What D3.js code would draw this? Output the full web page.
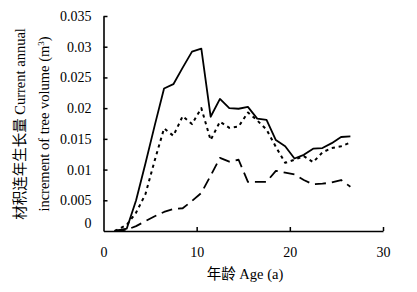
<!DOCTYPE html>
<html>
<head>
<meta charset="utf-8">
<script src="https://cdn.jsdelivr.net/npm/d3@7"></script>
<style>
  html, body { margin: 0; padding: 0; background: #fff; }
  svg { display: block; }
  text { font-family: "Liberation Serif", "Noto Sans CJK SC", serif; fill: #000; }
</style>
</head>
<body>
<svg id="chart" width="417" height="292"></svg>
<script>
// ---- data ----
const ages = [1.2, 2.5, 3.5, 4.5, 5.5, 6.5, 7.5, 8.5, 9.5, 10.5, 11.5, 12.5, 13.5, 14.5, 15.5, 16.5, 17.5, 18.5, 19.5, 20.5, 21.5, 22.5, 23.5, 24.5, 25.5, 26.5];
const seriesSolid = [0, 0.0004, 0.0050, 0.0110, 0.0172, 0.0232, 0.0239, 0.0266, 0.0292, 0.0297, 0.0186, 0.0215, 0.0200, 0.0199, 0.0202, 0.0183, 0.0181, 0.0148, 0.0138, 0.0118, 0.0124, 0.0134, 0.0135, 0.0143, 0.0153, 0.0154];
const seriesDotted = [0, 0.0010, 0.0030, 0.0060, 0.0115, 0.0167, 0.0155, 0.0187, 0.0174, 0.0200, 0.0148, 0.0178, 0.0168, 0.0170, 0.0193, 0.0180, 0.0165, 0.0137, 0.0111, 0.0116, 0.0122, 0.0112, 0.0128, 0.0135, 0.0138, 0.0144];
const seriesDashed = [0, 0.0002, 0.0008, 0.0016, 0.0024, 0.0031, 0.0036, 0.0037, 0.0049, 0.0062, 0.0090, 0.0119, 0.0113, 0.0116, 0.0080, 0.0080, 0.0080, 0.0098, 0.0095, 0.0092, 0.0083, 0.0076, 0.0077, 0.0079, 0.0083, 0.0072];
const xTicks = [0, 10, 20, 30];
const yTicks = [0, 0.005, 0.01, 0.015, 0.02, 0.025, 0.03, 0.035];
const xTitle = "年龄 Age (a)";
const yTitle1 = "材积连年生长量 Current annual";
const yTitle2 = "increment of tree volume (m";

// ---- layout ----
const svg = d3.select("#chart");
const x = d3.scaleLinear().domain([0, 30]).range([103.5, 383]);
const y = d3.scaleLinear().domain([0, 0.035]).range([231, 16]);

const fmt = d => d === 0 ? "0" : String(+d.toFixed(3));

// lines
const line = d3.line().x((d, i) => x(ages[i])).y(d => y(d));
const series = [
  { v: seriesDashed, dash: "11,6", w: 1.8 },
  { v: seriesDotted, dash: "3.2,3.8", w: 2 },
  { v: seriesSolid, dash: null, w: 1.8 }
];
series.forEach(s => {
  svg.append("path")
    .attr("d", line(s.v))
    .attr("fill", "none")
    .attr("stroke", "#000")
    .attr("stroke-width", s.w)
    .attr("stroke-linejoin", "round")
    .attr("stroke-dasharray", s.dash);
});

// axes
const yAxis = svg.append("g")
  .attr("transform", `translate(${x(0)},0)`)
  .call(d3.axisLeft(y).tickValues(yTicks).tickFormat(fmt).tickSizeInner(-4).tickSizeOuter(0).tickPadding(12));
const xAxis = svg.append("g")
  .attr("transform", `translate(0,${y(0)})`)
  .call(d3.axisBottom(x).tickValues(xTicks).tickFormat(d3.format("d")).tickSizeInner(-4).tickSizeOuter(0).tickPadding(16));

[yAxis, xAxis].forEach(g => {
  g.select(".domain").attr("stroke", "#000").attr("stroke-width", 1.6);
  g.selectAll(".tick line").attr("stroke", "#000").attr("stroke-width", 1.5);
  g.selectAll(".tick text")
    .style("font-family", '"Liberation Serif", serif')
    .style("font-size", "14px")
    .attr("fill", "#000");
});
// the y "0" label sits a little above the baseline in the reference
yAxis.selectAll(".tick text").filter(d => d === 0).attr("y", -8);
xAxis.selectAll(".tick line").filter(d => d === 0).remove();
yAxis.selectAll(".tick line").filter(d => d === 0).remove();

// titles
svg.append("text")
  .attr("x", 245).attr("y", 279)
  .attr("text-anchor", "middle")
  .style("font-size", "14.5px")
  .text(xTitle);

const yt = svg.append("g").attr("transform", "translate(25,124) rotate(-90)");
yt.append("text")
  .attr("x", 0).attr("y", 0)
  .attr("text-anchor", "middle")
  .style("font-size", "14.5px")
  .text(yTitle1);
const t2 = yt.append("text")
  .attr("x", 0).attr("y", 24)
  .attr("text-anchor", "middle")
  .style("font-size", "14.5px");
t2.append("tspan").text(yTitle2);
t2.append("tspan").attr("dy", -5).style("font-size", "9px").text("3");
t2.append("tspan").attr("dy", 5).text(")");
</script>
</body>
</html>
